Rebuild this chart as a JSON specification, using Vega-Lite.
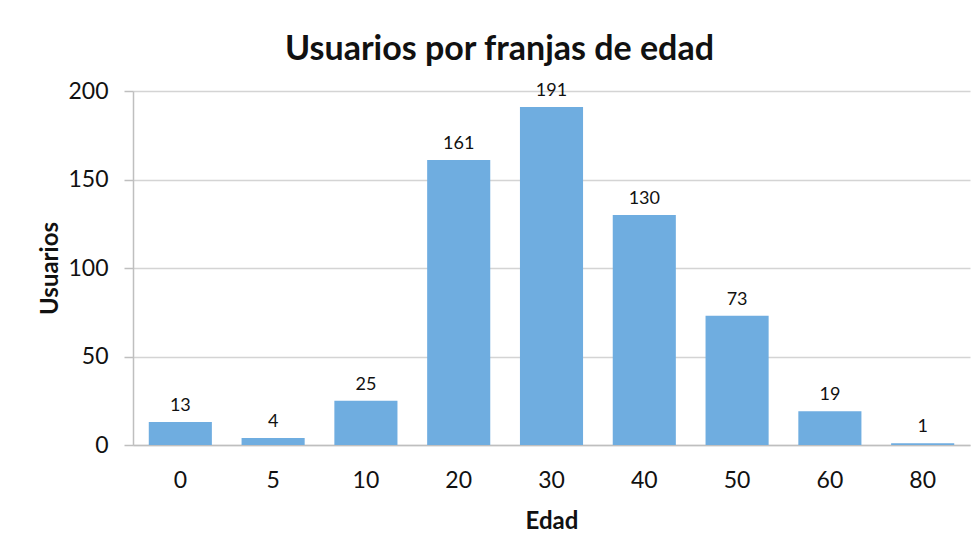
{
  "$schema": "https://vega.github.io/schema/vega-lite/v6.json",
  "autosize": {"type": "none"},
  "width": 837,
  "height": 354,
  "padding": {"left": 133, "top": 91, "right": 3, "bottom": 99},
  "background": "white",
  "title": {
    "text": "Usuarios por franjas de edad",
    "font": "Lato",
    "fontSize": 34,
    "fontWeight": "bold",
    "color": "#111111",
    "anchor": "middle",
    "dx": -52,
    "offset": 13
  },
  "data": {
    "values": [
      {"edad": "0", "usuarios": 13},
      {"edad": "5", "usuarios": 4},
      {"edad": "10", "usuarios": 25},
      {"edad": "20", "usuarios": 161},
      {"edad": "30", "usuarios": 191},
      {"edad": "40", "usuarios": 130},
      {"edad": "50", "usuarios": 73},
      {"edad": "60", "usuarios": 19},
      {"edad": "80", "usuarios": 1}
    ]
  },
  "encoding": {
    "x": {
      "field": "edad",
      "type": "ordinal",
      "sort": null,
      "scale": {"paddingInner": 0.32, "paddingOuter": 0.17},
      "axis": {
        "title": "Edad",
        "labelAngle": 0,
        "labelFont": "Lato",
        "labelFontSize": 23,
        "labelColor": "#111111",
        "labelPadding": 24,
        "ticks": false,
        "domainColor": "#bfbfbf",
        "domainWidth": 1.5,
        "titleFont": "Lato",
        "titleFontSize": 24,
        "titleFontWeight": "bold",
        "titleColor": "#111111",
        "titlePadding": 17
      }
    },
    "y": {
      "field": "usuarios",
      "type": "quantitative",
      "scale": {"domain": [0, 200], "nice": false},
      "axis": {
        "title": "Usuarios",
        "values": [0, 50, 100, 150, 200],
        "labelFont": "Lato",
        "labelFontSize": 23,
        "labelColor": "#111111",
        "labelPadding": 16,
        "tickSize": 9,
        "tickColor": "#bfbfbf",
        "tickWidth": 1.5,
        "domainColor": "#bfbfbf",
        "domainWidth": 1.5,
        "gridColor": "#d4d4d4",
        "gridWidth": 1.5,
        "titleFont": "Lato",
        "titleFontSize": 24,
        "titleFontWeight": "bold",
        "titleColor": "#111111",
        "titlePadding": 5
      }
    }
  },
  "layer": [
    {
      "mark": {"type": "bar", "color": "#6fade0"}
    },
    {
      "mark": {
        "type": "text",
        "baseline": "bottom",
        "dy": -7,
        "font": "Lato",
        "fontSize": 18,
        "color": "#111111"
      },
      "encoding": {"text": {"field": "usuarios", "type": "quantitative"}}
    }
  ],
  "config": {"view": {"stroke": null}}
}
